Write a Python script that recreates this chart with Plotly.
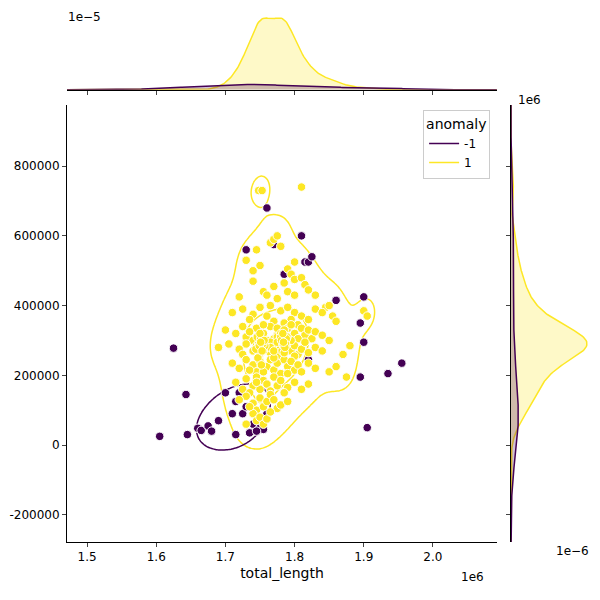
import numpy as np
import plotly.graph_objects as go

# yellow (anomaly = 1): total_length (x1e6), value (thousands)
norm_x = [1.81,1.748,1.753,1.765,1.77,1.775,1.745,1.78,1.73,1.75,1.80,1.79,1.795,1.74,
 1.72,1.74,1.755,1.77,1.785,1.80,1.81,1.815,1.79,1.76,1.775,1.80,1.82,1.83,1.765,
 1.71,1.725,1.74,1.75,1.76,1.78,1.79,1.80,1.81,1.82,1.83,1.845,1.85,1.855,1.86,1.735,1.77,1.795,1.805,1.785,1.84,1.90,1.905,
 1.70,1.715,1.725,1.73,1.745,1.755,1.765,1.77,1.78,1.79,1.795,1.80,1.81,1.815,1.82,1.825,1.83,1.84,1.85,1.76,1.775,1.785,1.74,1.805,1.735,1.795,1.755,1.775,
 1.69,1.705,1.72,1.73,1.74,1.745,1.75,1.76,1.765,1.77,1.775,1.78,1.785,1.79,1.795,1.80,1.805,1.81,1.815,1.82,1.83,1.84,1.87,1.88,1.725,1.755,1.785,1.765,1.80,
 1.71,1.72,1.73,1.74,1.745,1.75,1.76,1.765,1.77,1.775,1.78,1.785,1.79,1.795,1.80,1.805,1.81,1.82,1.83,1.85,1.86,1.875,1.755,1.79,1.735,1.77,
 1.715,1.73,1.74,1.745,1.75,1.755,1.76,1.765,1.77,1.775,1.78,1.79,1.80,1.81,1.82,1.725,1.735,1.785,1.745,
 1.73,1.74,1.745,1.75,1.755,1.76,1.765,1.77,1.775,1.74,1.745,1.75,1.755,1.76,1.765,1.735,1.78,1.79,1.72,1.73,
 1.775,1.785,1.765,1.79,1.78,1.77,1.795,1.785,1.775,1.78,
 1.748,1.752,1.750,1.755,1.746,1.753,1.749,1.757,1.751,1.744,1.754,1.750,1.747,1.756,1.752,1.749,1.753,1.751,
 1.783,1.787,1.785,1.789,1.782,1.786,1.784,1.788,1.781,1.785,1.787,1.783,1.786,1.784]
norm_y = [740,730,730,580,590,600,560,570,530,515,525,505,490,500,
 425,470,440,455,465,475,480,460,440,430,420,430,445,430,400,
 380,390,375,395,370,385,395,380,370,360,390,395,400,370,355,360,355,360,345,350,380,385,370,
 330,320,340,310,335,320,340,305,325,335,310,320,335,315,330,305,325,315,300,300,315,300,300,305,325,345,345,335,
 280,290,275,290,270,285,260,280,265,290,255,280,265,290,270,285,260,275,295,265,280,270,260,285,260,295,285,295,255,
 235,220,245,230,210,240,225,245,215,235,205,245,225,240,215,230,210,235,220,210,225,195,210,205,215,250,
 180,190,170,195,160,185,175,155,195,170,185,165,180,160,175,160,150,150,180,
 140,120,100,135,110,125,145,130,105,90,70,80,60,75,95,110,115,125,130,60,
 310,290,280,300,320,270,300,330,295,310,
 290,280,300,270,310,295,260,285,305,275,290,320,250,300,230,285,270,295,
 290,300,280,310,270,295,285,305,300,265,290,320,280,295]

# purple (anomaly = -1)
anom_x = [1.605,1.625,1.643,1.645,1.66,1.665,1.675,1.68,1.70,1.71,1.715,1.715,1.72,1.725,1.73,1.735,1.74,
 1.76,1.77,1.785,1.81,1.815,1.82,1.825,1.86,1.895,1.90,1.90,1.895,1.905,1.935,1.955,1.75,1.755,1.76,1.78,1.82,1.73,1.69,1.745]
anom_y = [25,278,145,30,48,42,55,40,150,90,30,125,150,90,560,35,60,
 680,575,490,600,525,525,540,415,350,425,295,195,50,205,235,50,45,90,250,245,110,70,40]

PURPLE, YELLOW = "#440154", "#fde725"

nx = np.array(norm_x) * 1e6; ny = np.array(norm_y) * 1e3
ax_ = np.array(anom_x) * 1e6; ay = np.array(anom_y) * 1e3
ntot = len(nx) + len(ax_)

def kde1(d, grid, w):
    bw = d.std(ddof=1) * len(d) ** (-1 / 5)
    z = (grid[:, None] - d[None, :]) / bw
    return w * np.exp(-0.5 * z**2).sum(1) / (len(d) * bw * np.sqrt(2 * np.pi))

def kde2(x, y, gx, gy, w):
    data = np.vstack([x, y])
    cov = np.cov(data) * len(x) ** (-2 / 6)
    inv = np.linalg.inv(cov)
    X, Y = np.meshgrid(gx, gy)
    pts = np.stack([X.ravel(), Y.ravel()])
    d = pts[:, :, None] - data[:, None, :]
    q = np.einsum('ijk,il,ljk->jk', d, inv, d)
    dens = np.exp(-0.5 * q).sum(1) / (len(x) * 2 * np.pi * np.sqrt(np.linalg.det(cov)))
    return w * dens.reshape(X.shape)

gx = np.linspace(1.45e6, 2.1e6, 200); gy = np.linspace(-300e3, 1000e3, 200)
zn = kde2(nx, ny, gx, gy, len(nx) / ntot)
za = kde2(ax_, ay, gx, gy, len(ax_) / ntot)
zmax = zn.max()

fig = go.Figure()
fig.add_trace(go.Scatter(x=ax_, y=ay, mode="markers", marker=dict(color=PURPLE, size=8.5, line=dict(color="white", width=1)), showlegend=False))
fig.add_trace(go.Scatter(x=nx, y=ny, mode="markers", marker=dict(color=YELLOW, size=8.5, line=dict(color="white", width=1)), showlegend=False))
for z, c, lv in [(zn, YELLOW, [0.03, 0.35]), (za, PURPLE, [0.035])]:
    for l in lv:
        v = l * zmax
        fig.add_trace(go.Contour(x=gx, y=gy, z=z, contours=dict(coloring="lines", start=v, end=v, size=1),
            colorscale=[[0, c], [1, c]], showscale=False, line=dict(width=1.5), hoverinfo="skip"))
fig.add_trace(go.Scatter(x=[None], y=[None], mode="lines", line=dict(color=PURPLE, width=1.5), name="-1"))
fig.add_trace(go.Scatter(x=[None], y=[None], mode="lines", line=dict(color=YELLOW, width=1.5), name="1"))

# marginals
mx = np.linspace(1.45e6, 2.1e6, 400)
tn = kde1(nx, mx, len(nx) / ntot); ta = kde1(ax_, mx, len(ax_) / ntot)
fig.add_trace(go.Scatter(x=mx, y=tn, xaxis="x2", yaxis="y2", mode="lines", line=dict(color=YELLOW, width=1.5),
    fill="tozeroy", fillcolor="rgba(253,231,37,0.25)", showlegend=False))
fig.add_trace(go.Scatter(x=mx, y=ta, xaxis="x2", yaxis="y2", mode="lines", line=dict(color=PURPLE, width=1.5),
    fill="tozeroy", fillcolor="rgba(68,1,84,0.25)", showlegend=False))
my = np.linspace(-300e3, 1000e3, 400)
rn = kde1(ny, my, len(nx) / ntot); ra = kde1(ay, my, len(ax_) / ntot)
fig.add_trace(go.Scatter(x=rn, y=my, xaxis="x3", yaxis="y3", mode="lines", line=dict(color=YELLOW, width=1.5),
    fill="tozerox", fillcolor="rgba(253,231,37,0.25)", showlegend=False))
fig.add_trace(go.Scatter(x=ra, y=my, xaxis="x3", yaxis="y3", mode="lines", line=dict(color=PURPLE, width=1.5),
    fill="tozerox", fillcolor="rgba(68,1,84,0.25)", showlegend=False))

xr = [1.471e6, 2.0925e6]; yr = [-278e3, 975e3]
tickv = [1.5e6, 1.6e6, 1.7e6, 1.8e6, 1.9e6, 2.0e6]
yt = [-200e3, 0, 200e3, 400e3, 600e3, 800e3]
ax_common = dict(showline=True, linecolor="black", ticks="outside", ticklen=4, showgrid=False, zeroline=False,
                 tickfont=dict(size=12, color="black"), automargin=False)
hidden = dict(showline=False, showticklabels=False, showgrid=False, zeroline=False, automargin=False)
fig.update_layout(
    width=600, height=600, margin=dict(l=59, r=18, t=7, b=66), plot_bgcolor="white", paper_bgcolor="white",
    font=dict(family="DejaVu Sans", size=12, color="black"),
    xaxis=dict(domain=[0, 0.822], range=xr, tickvals=tickv, ticktext=["1.5", "1.6", "1.7", "1.8", "1.9", "2.0"],
               title=dict(text="total_length", standoff=4), anchor="y", **ax_common),
    yaxis=dict(domain=[0, 0.829], range=yr, tickvals=yt,
               ticktext=["-200000", "0", "200000", "400000", "600000", "800000"], anchor="x", **ax_common),
    xaxis2=dict(domain=[0, 0.822], range=xr, tickvals=tickv, showticklabels=False, anchor="y2", **ax_common),
    yaxis2=dict(domain=[0.858, 1], range=[0, tn.max() * 1.04], anchor="x2", **hidden),
    xaxis3=dict(domain=[0.849, 1], range=[0, rn.max() * 1.04], anchor="y3", **hidden),
    yaxis3=dict(domain=[0, 0.829], range=yr, tickvals=yt, showticklabels=False, anchor="x3", **ax_common),
    legend=dict(x=0.809, y=0.82, xanchor="right", yanchor="top", title=dict(text="anomaly"),
                bordercolor="#cccccc", borderwidth=1, bgcolor="white", font=dict(size=12)),
    annotations=[
        dict(text="1e−5", x=0.034, y=0.996, xref="paper", yref="paper", xanchor="center", yanchor="middle", showarrow=False),
        dict(text="1e6", x=0.885, y=0.839, xref="paper", yref="paper", xanchor="center", yanchor="middle", showarrow=False),
        dict(text="1e6", x=0.776, y=-0.066, xref="paper", yref="paper", xanchor="center", yanchor="middle", showarrow=False),
        dict(text="1e−6", x=0.966, y=-0.017, xref="paper", yref="paper", xanchor="center", yanchor="middle", showarrow=False),
    ],
)
fig.write_html("out.html")
